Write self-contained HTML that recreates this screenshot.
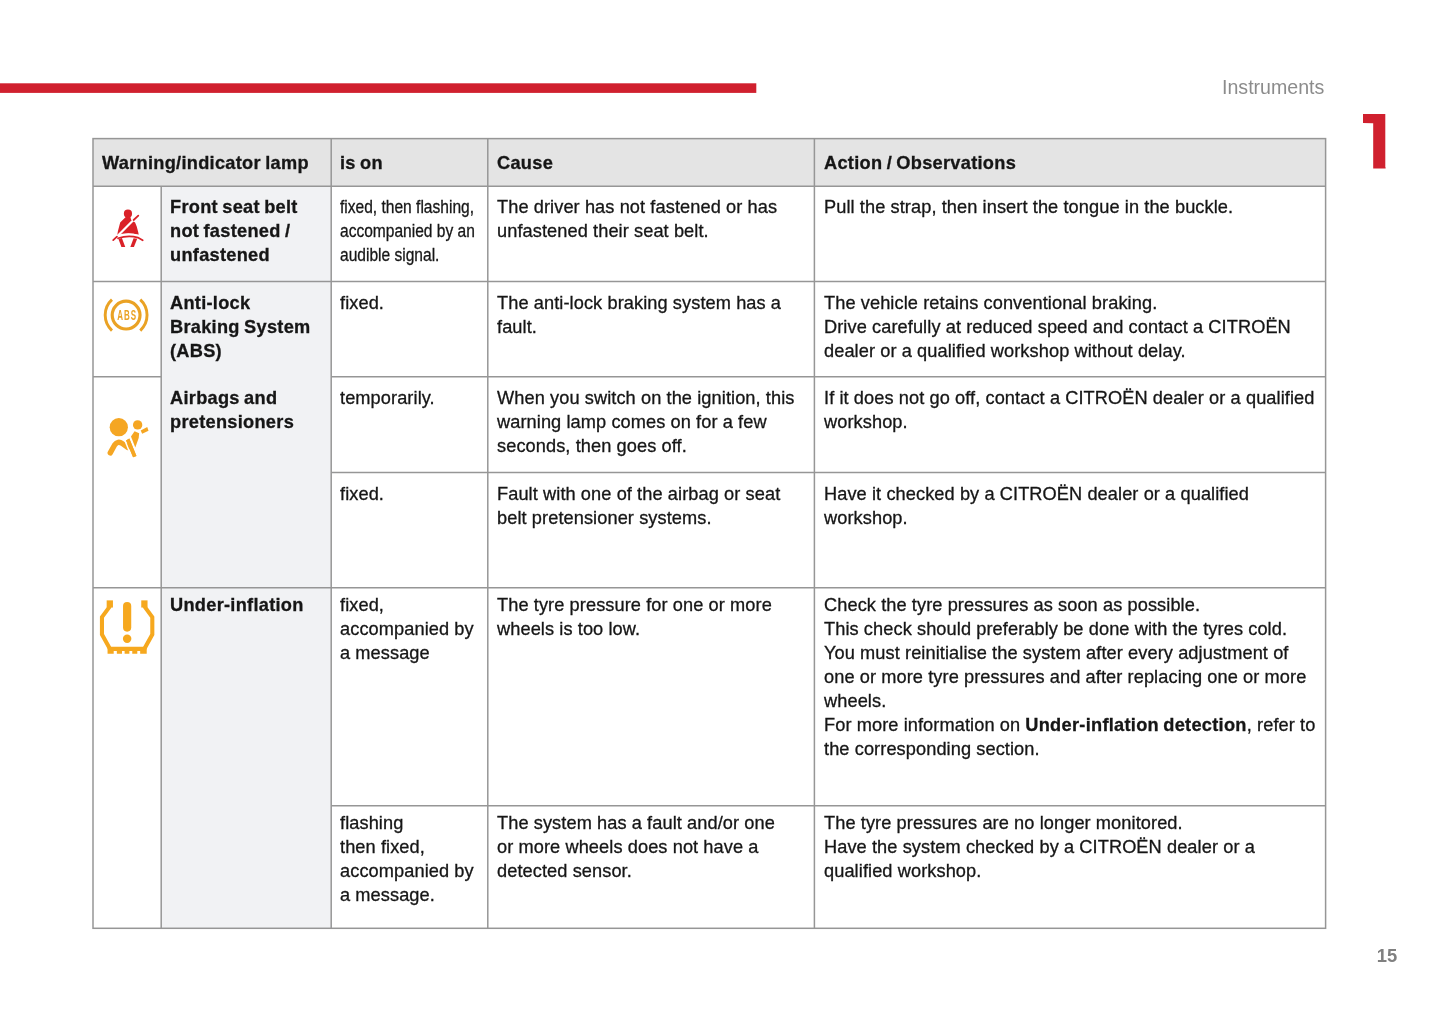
<!DOCTYPE html>
<html lang="en">
<head>
<meta charset="utf-8">
<title>Instruments</title>
<style>
html,body{margin:0;padding:0;background:#fff;}
body{width:1445px;height:1026px;position:relative;overflow:hidden;font-family:"Liberation Sans",Arial,Helvetica,sans-serif;color:#1a1a1a;}
.abs{position:absolute;}
#grid{position:absolute;left:0;top:0;width:1445px;height:1026px;}
.t{position:absolute;font-size:18.2px;line-height:24px;letter-spacing:0.09px;-webkit-text-stroke:0.3px #161616;white-space:nowrap;color:#161616;}
.b{font-weight:bold;letter-spacing:0.29px;word-spacing:-1px;}
.t b{letter-spacing:0.29px;word-spacing:-1px;}
.cond{transform:scaleX(0.855);transform-origin:0 0;letter-spacing:0;}
#section{position:absolute;left:1222px;top:74.5px;font-size:19.6px;line-height:24px;color:#8c8c8c;white-space:nowrap;}
#chapclip{position:absolute;left:0;top:0;width:1445px;height:300px;clip-path:polygon(1363px 113.9px,1385.6px 113.9px,1385.6px 168.5px,1373.2px 168.5px,1373.2px 123.3px,1363px 123px);}
#chap{position:absolute;left:1352.1px;top:99.1px;font-size:93.2px;line-height:93.2px;font-weight:bold;color:#d0202e;transform:scaleX(0.97);transform-origin:0 0;text-shadow:-10px 0 0 #d0202e;}
#pageno{position:absolute;left:1376.7px;top:944.4px;font-size:18.4px;line-height:24px;font-weight:bold;color:#808080;white-space:nowrap;}
</style>
</head>
<body>
<svg id="grid" width="1445" height="1026" viewBox="0 0 1445 1026">
  <!-- red top bar -->
  <rect x="0" y="83.3" width="756.3" height="9.6" fill="#d0202e"/>
  <!-- header background -->
  <rect x="93" y="138.6" width="1232.6" height="47.6" fill="#e4e4e4"/>
  <!-- label column background -->
  <rect x="161.2" y="186.2" width="170" height="742.1" fill="#f1f2f4"/>
  <g stroke="#969696" stroke-width="1.5" fill="none">
    <!-- outer -->
    <rect x="93" y="138.6" width="1232.6" height="789.7"/>
    <!-- verticals -->
    <line x1="161.2" y1="186.2" x2="161.2" y2="928.3"/>
    <line x1="331.2" y1="138.6" x2="331.2" y2="928.3"/>
    <line x1="487.8" y1="138.6" x2="487.8" y2="928.3"/>
    <line x1="814.4" y1="138.6" x2="814.4" y2="928.3"/>
    <!-- horizontals -->
    <line x1="93" y1="186.2" x2="1325.6" y2="186.2"/>
    <line x1="93" y1="281.5" x2="1325.6" y2="281.5"/>
    <line x1="93" y1="376.8" x2="161.2" y2="376.8"/>
    <line x1="331.2" y1="376.8" x2="1325.6" y2="376.8"/>
    <line x1="331.2" y1="472.6" x2="1325.6" y2="472.6"/>
    <line x1="93" y1="587.8" x2="1325.6" y2="587.8"/>
    <line x1="331.2" y1="805.8" x2="1325.6" y2="805.8"/>
  </g>
</svg>


<!-- seat belt icon -->
<svg class="abs" style="left:100px;top:200px" width="60" height="60" viewBox="0 0 1026 1026">
  <g fill="#da2128">
    <circle cx="478" cy="234" r="70"/>
    <path d="M440 290 L520 290 L532 338 L600 385 L628 455 L655 555 L662 596 Q480 548 296 600 L305 540 L345 385 Z"/>
    <path d="M316 668 L374 648 L432 802 L366 802 Z"/>
    <path d="M574 652 L636 664 L580 802 L518 802 Z"/>
  </g>
  <path d="M585 330 L270 645" stroke="#fff" stroke-width="38" fill="none"/>
  <path d="M292 620 Q480 560 664 616" stroke="#fff" stroke-width="38" fill="none"/>
  <g stroke="#da2128" stroke-width="30" fill="none" stroke-linecap="round">
    <path d="M575 342 L655 266"/>
    <path d="M290 626 L226 686"/>
    <path d="M308 654 Q480 598 648 642 L730 688"/>
  </g>
</svg>

<!-- ABS icon -->
<svg class="abs" style="left:96px;top:285px" width="60" height="60" viewBox="0 0 1026 1026">
  <g stroke="#eaa224" fill="none">
    <circle cx="515" cy="515" r="238" stroke-width="54"/>
    <path d="M273.1 251.1 A358 358 0 0 0 273.1 778.9" stroke-width="50"/>
    <path d="M756.9 251.1 A358 358 0 0 1 756.9 778.9" stroke-width="50"/>
  </g>
  <text transform="translate(362,590) scale(0.56,1)" font-family="Liberation Sans, Arial, sans-serif" font-weight="bold" font-size="244" letter-spacing="32" fill="#eaa224">ABS</text>
</svg>

<!-- airbag icon -->
<svg class="abs" style="left:96px;top:405px" width="60" height="60" viewBox="0 0 1026 1026">
  <g fill="#f5a623">
    <circle cx="390" cy="380" r="156"/>
    <circle cx="712" cy="340" r="80"/>
    <path d="M764 436 L876 378 L898 440 L790 492 Z"/>
    <path d="M660 448 L738 482 L730 565 L672 728 L598 540 Z"/>
    <path d="M514 606 L570 574 L692 870 L634 892 Z"/>
  </g>
  <path d="M244 818 L318 684 Q372 604 452 660 L540 724" stroke="#f5a623" stroke-width="92" fill="none" stroke-linecap="round" stroke-linejoin="round"/>
  <path d="M492 600 L560 770" stroke="#fff" stroke-width="26" fill="none"/>
  <path d="M514 606 L570 574 L692 870 L634 892 Z" fill="#f5a623"/>
</svg>

<!-- tyre pressure icon -->
<svg class="abs" style="left:92px;top:590px" width="70" height="70" viewBox="0 0 1026 1026">
  <g fill="#f6a81e">
    <rect x="215" y="152" width="92" height="105"/>
    <rect x="722" y="152" width="92" height="105"/>
    <rect x="455" y="175" width="120" height="436" rx="60"/>
    <circle cx="515" cy="715" r="62"/>
    <path d="M228 830 H802 V935 H706 V895 H664 V935 H590 V895 H548 V935 H478 V895 H440 V935 H364 V895 H318 V935 H228 Z"/>
  </g>
  <path d="M262 240 L146 398 V652 L262 860 M768 240 L884 398 V652 L768 860" stroke="#f6a81e" stroke-width="60" fill="none" stroke-linejoin="miter"/>
</svg>

<div id="section">Instruments</div>
<div id="chapclip"><div id="chap">1</div></div>
<div id="pageno">15</div>

<!-- header -->
<div class="t b" style="left:102px;top:150.9px">Warning/indicator lamp</div>
<div class="t b" style="left:340px;top:150.9px">is on</div>
<div class="t b" style="left:497px;top:150.9px">Cause</div>
<div class="t b" style="left:824px;top:150.9px">Action / Observations</div>

<!-- row 1 -->
<div class="t b" style="left:170px;top:194.7px">Front seat belt<br>not fastened /<br>unfastened</div>
<div class="t cond" style="left:340px;top:194.7px">fixed, then flashing,<br>accompanied by an<br>audible signal.</div>
<div class="t" style="left:497px;top:194.7px">The driver has not fastened or has<br>unfastened their seat belt.</div>
<div class="t" style="left:824px;top:194.7px">Pull the strap, then insert the tongue in the buckle.</div>

<!-- row 2 -->
<div class="t b" style="left:170px;top:290.6px">Anti-lock<br>Braking System<br>(ABS)</div>
<div class="t" style="left:340px;top:290.6px">fixed.</div>
<div class="t" style="left:497px;top:290.6px">The anti-lock braking system has a<br>fault.</div>
<div class="t" style="left:824px;top:290.6px">The vehicle retains conventional braking.<br>Drive carefully at reduced speed and contact a CITROËN<br>dealer or a qualified workshop without delay.</div>

<!-- row 3 -->
<div class="t b" style="left:170px;top:385.9px">Airbags and<br>pretensioners</div>
<div class="t" style="left:340px;top:385.9px">temporarily.</div>
<div class="t" style="left:497px;top:385.9px">When you switch on the ignition, this<br>warning lamp comes on for a few<br>seconds, then goes off.</div>
<div class="t" style="left:824px;top:385.9px">If it does not go off, contact a CITROËN dealer or a qualified<br>workshop.</div>

<!-- row 4 -->
<div class="t" style="left:340px;top:481.7px">fixed.</div>
<div class="t" style="left:497px;top:481.7px">Fault with one of the airbag or seat<br>belt pretensioner systems.</div>
<div class="t" style="left:824px;top:481.7px">Have it checked by a CITROËN dealer or a qualified<br>workshop.</div>

<!-- row 5 -->
<div class="t b" style="left:170px;top:592.5px">Under-inflation</div>
<div class="t" style="left:340px;top:592.5px">fixed,<br>accompanied by<br>a message</div>
<div class="t" style="left:497px;top:592.5px">The tyre pressure for one or more<br>wheels is too low.</div>
<div class="t" style="left:824px;top:592.5px">Check the tyre pressures as soon as possible.<br>This check should preferably be done with the tyres cold.<br>You must reinitialise the system after every adjustment of<br>one or more tyre pressures and after replacing one or more<br>wheels.<br>For more information on <b>Under-inflation detection</b>, refer to<br>the corresponding section.</div>

<!-- row 6 -->
<div class="t" style="left:340px;top:810.5px">flashing<br>then fixed,<br>accompanied by<br>a message.</div>
<div class="t" style="left:497px;top:810.5px">The system has a fault and/or one<br>or more wheels does not have a<br>detected sensor.</div>
<div class="t" style="left:824px;top:810.5px">The tyre pressures are no longer monitored.<br>Have the system checked by a CITROËN dealer or a<br>qualified workshop.</div>

</body>
</html>
